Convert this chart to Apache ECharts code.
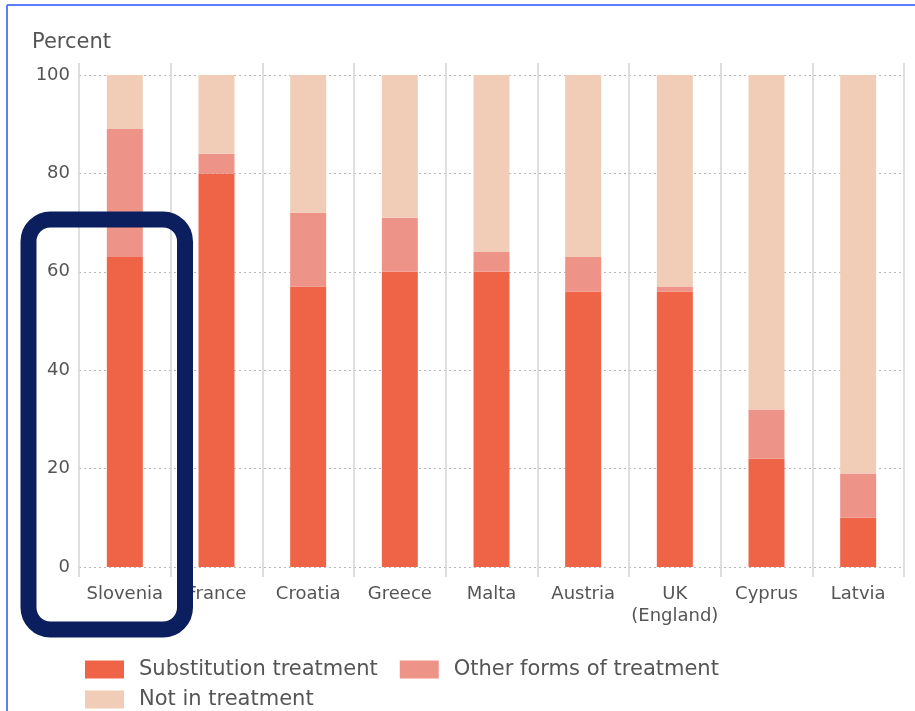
<!DOCTYPE html>
<html>
<head>
<meta charset="utf-8">
<title>Treatment status</title>
<script src="https://cdn.jsdelivr.net/npm/echarts@6/dist/echarts.min.js"></script>
<style>
  html, body { margin: 0; padding: 0; background: #fff; }
  #chart { width: 915px; height: 711px; }
</style>
</head>
<body>
<div id="chart"></div>
<script>
// data
const countries = ['Slovenia', 'France', 'Croatia', 'Greece', 'Malta', 'Austria', 'UK\n(England)', 'Cyprus', 'Latvia'];
const substitution = [63, 80, 57, 60, 60, 56, 56, 22, 10];
const otherForms = [26, 4, 15, 11, 4, 7, 1, 10, 9];
const notInTreatment = [11, 16, 28, 29, 36, 37, 43, 68, 81];
const yTicks = [0, 20, 40, 60, 80, 100];

const textColor = '#555555';
const font = 'DejaVu Sans';

const chart = echarts.init(document.getElementById('chart'));

const barSeries = (name, data, color) => ({
  name: name,
  type: 'bar',
  stack: 'total',
  barWidth: 36,
  data: data,
  itemStyle: { color: color },
  emphasis: { disabled: true }
});

const option = {
  animation: false,
  title: {
    text: 'Percent',
    left: 27,
    top: 27,
    textStyle: { fontFamily: font, fontSize: 21, fontWeight: 'normal', color: textColor }
  },
  grid: { left: 79, right: 11, top: 75, bottom: 144 },
  legend: [
    {
      data: ['Substitution treatment', 'Other forms of treatment'],
      left: 80,
      top: 654,
      itemWidth: 39,
      itemHeight: 18,
      itemGap: 22,
      icon: 'rect',
      textStyle: { fontFamily: font, fontSize: 21, color: textColor, padding: [0, 0, 0, 10] }
    },
    {
      data: ['Not in treatment'],
      left: 80,
      top: 684,
      itemWidth: 39,
      itemHeight: 18,
      icon: 'rect',
      textStyle: { fontFamily: font, fontSize: 21, color: textColor, padding: [0, 0, 0, 10] }
    }
  ],
  xAxis: [
    {
      type: 'category',
      data: countries,
      axisLine: { show: false },
      axisTick: { show: true, length: 10, lineStyle: { color: '#d4d4d4', width: 1.5 } },
      splitLine: { show: true, lineStyle: { color: '#d4d4d4', width: 1.5 } },
      axisLabel: {
        fontFamily: font, fontSize: 18, color: textColor, margin: 16,
        lineHeight: 22, interval: 0
      }
    },
    {
      type: 'category',
      position: 'top',
      data: countries,
      axisLine: { show: false },
      axisTick: { show: true, length: 12, lineStyle: { color: '#d4d4d4', width: 1.5 } },
      axisLabel: { show: false }
    }
  ],
  yAxis: {
    type: 'value',
    min: yTicks[0],
    max: yTicks[yTicks.length - 1],
    interval: 20,
    axisLine: { show: false },
    axisTick: { show: false },
    axisLabel: { fontFamily: font, fontSize: 18, color: textColor, margin: 9 },
    splitLine: { lineStyle: { type: [2, 3], color: '#b8b8b8', width: 1.2 } }
  },
  series: [
    barSeries('Substitution treatment', substitution, '#EF6446'),
    barSeries('Other forms of treatment', otherForms, '#EE9388'),
    barSeries('Not in treatment', notInTreatment, '#F1CDB8')
  ],
  graphic: [
    // frame of the screenshot
    { type: 'line', shape: { x1: 7, y1: 5, x2: 7, y2: 711 }, style: { stroke: '#5a7eff', lineWidth: 2 } },
    { type: 'line', shape: { x1: 7, y1: 5, x2: 915, y2: 5 }, style: { stroke: '#5a7eff', lineWidth: 2 } },
    // highlight box around Slovenia
    {
      type: 'rect',
      z: 100,
      shape: { x: 28.5, y: 219.5, width: 156.5, height: 410, r: 22 },
      style: { fill: 'none', stroke: '#0B1F5E', lineWidth: 16 }
    }
  ]
};

chart.setOption(option);
</script>
</body>
</html>
